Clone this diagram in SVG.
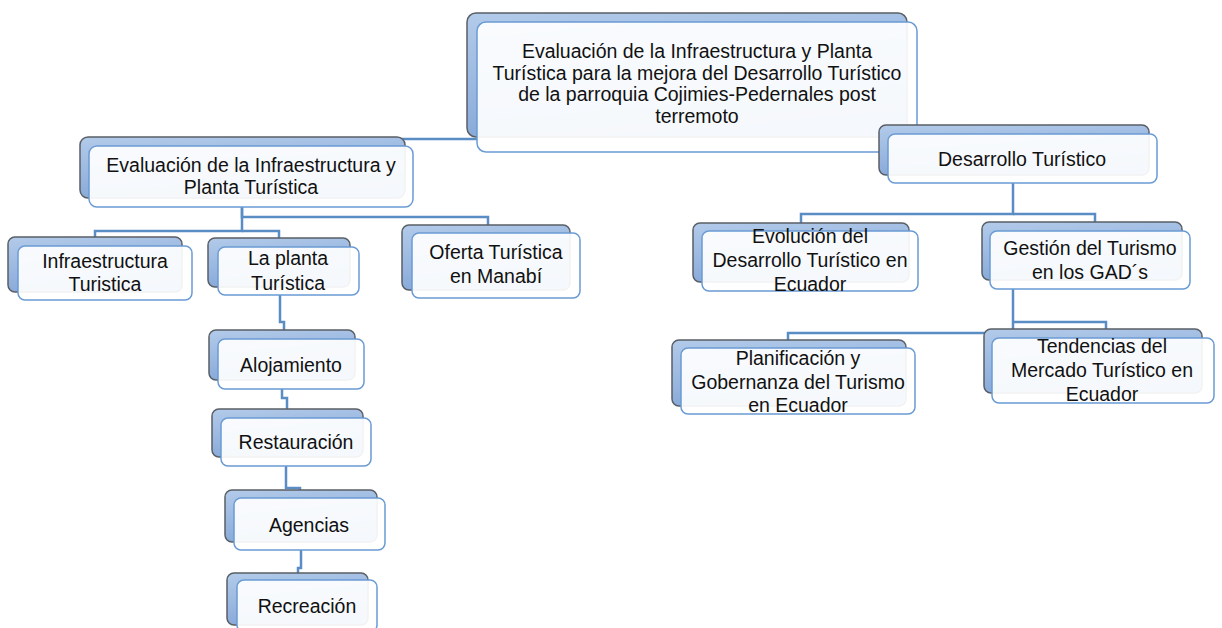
<svg xmlns="http://www.w3.org/2000/svg" width="1222" height="628" viewBox="0 0 1222 628">
<defs>
<linearGradient id="bg" x1="0" y1="0" x2="0.3" y2="1">
<stop offset="0" stop-color="#b3cbea"/>
<stop offset="1" stop-color="#86a8d8"/>
</linearGradient>
<style>
.back{fill:url(#bg);stroke:#5a5f66;stroke-width:1.5}
.front{fill:#ffffff;fill-opacity:0.92;stroke:#6a9bd4;stroke-width:1.5}
.lbl{font-family:"Liberation Sans",Arial,sans-serif;font-size:19.5px;fill:#111;text-anchor:middle}
.conn{fill:none;stroke:#5b8dc5;stroke-width:2.5}
</style>
</defs>
<rect width="1222" height="628" fill="#ffffff"/>
<g id="connectors">
<path class="conn" d="M477,139 H243 V146"/>
<path class="conn" d="M917,139 H1013 V134"/>
<path class="conn" d="M242,207 V231 H95 V237"/>
<path class="conn" d="M242,231 H279 V238"/>
<path class="conn" d="M242,207 V217 H488 V225"/>
<path class="conn" d="M280,295 V322 H284 V330"/>
<path class="conn" d="M282,389 V398 H287 V409"/>
<path class="conn" d="M286,466 V488 H300 V490"/>
<path class="conn" d="M301,550 V568 H298 V573"/>
<path class="conn" d="M1013,183 V214 H801 V223"/>
<path class="conn" d="M1013,214 H1095 V222"/>
<path class="conn" d="M1013,289 V333 H788 V340"/>
<path class="conn" d="M1013,322 H1106 V329"/>
</g>
<g id="root">
<rect class="back" x="467" y="13" width="440" height="124" rx="9"/>
<rect class="front" x="477" y="22" width="440" height="130" rx="9"/>
<text class="lbl" x="697" y="58">Evaluación de la Infraestructura y Planta</text>
<text class="lbl" x="697" y="80">Turística para la mejora del Desarrollo Turístico</text>
<text class="lbl" x="697" y="101">de la parroquia Cojimies-Pedernales post</text>
<text class="lbl" x="697" y="123">terremoto</text>
</g>
<g id="evaluacion">
<rect class="back" x="80" y="137" width="325" height="61" rx="8"/>
<rect class="front" x="89" y="146" width="324" height="61" rx="8"/>
<text class="lbl" x="251" y="172">Evaluación de la Infraestructura y</text>
<text class="lbl" x="251" y="194">Planta Turística</text>
</g>
<g id="infraestructura">
<rect class="back" x="8" y="237" width="174" height="55" rx="7"/>
<rect class="front" x="18" y="246" width="174" height="54" rx="7"/>
<text class="lbl" x="105" y="268">Infraestructura</text>
<text class="lbl" x="105" y="291">Turistica</text>
</g>
<g id="planta">
<rect class="back" x="208" y="238" width="142" height="49" rx="7"/>
<rect class="front" x="218" y="247" width="141" height="48" rx="7"/>
<text class="lbl" x="288" y="265">La planta</text>
<text class="lbl" x="288" y="290">Turística</text>
</g>
<g id="oferta">
<rect class="back" x="402" y="225" width="168" height="65" rx="7"/>
<rect class="front" x="412" y="233" width="168" height="65" rx="7"/>
<text class="lbl" x="496" y="259">Oferta Turística</text>
<text class="lbl" x="496" y="283">en Manabí</text>
</g>
<g id="alojamiento">
<rect class="back" x="209" y="330" width="146" height="50" rx="7"/>
<rect class="front" x="218" y="339" width="146" height="50" rx="7"/>
<text class="lbl" x="291" y="372">Alojamiento</text>
</g>
<g id="restauracion">
<rect class="back" x="212" y="409" width="151" height="48" rx="7"/>
<rect class="front" x="221" y="418" width="150" height="48" rx="7"/>
<text class="lbl" x="296" y="449">Restauración</text>
</g>
<g id="agencias">
<rect class="back" x="225" y="490" width="152" height="52" rx="7"/>
<rect class="front" x="234" y="498" width="151" height="52" rx="7"/>
<text class="lbl" x="309" y="532">Agencias</text>
</g>
<g id="recreacion">
<rect class="back" x="227" y="573" width="141" height="52" rx="7"/>
<rect class="front" x="237" y="580" width="140" height="52" rx="7"/>
<text class="lbl" x="307" y="613">Recreación</text>
</g>
<g id="desarrollo">
<rect class="back" x="879" y="125" width="270" height="50" rx="7"/>
<rect class="front" x="888" y="134" width="269" height="49" rx="7"/>
<text class="lbl" x="1022" y="166">Desarrollo Turístico</text>
</g>
<g id="evolucion">
<rect class="back" x="693" y="223" width="216" height="59" rx="7"/>
<rect class="front" x="702" y="231" width="216" height="60" rx="7"/>
<text class="lbl" x="810" y="243">Evolución del</text>
<text class="lbl" x="810" y="267">Desarrollo Turístico en</text>
<text class="lbl" x="810" y="291">Ecuador</text>
</g>
<g id="gestion">
<rect class="back" x="982" y="222" width="200" height="58" rx="7"/>
<rect class="front" x="990" y="231" width="200" height="58" rx="7"/>
<text class="lbl" x="1090" y="255">Gestión del Turismo</text>
<text class="lbl" x="1090" y="279">en los GAD´s</text>
</g>
<g id="planificacion">
<rect class="back" x="672" y="340" width="234" height="66" rx="7"/>
<rect class="front" x="681" y="348" width="234" height="66" rx="7"/>
<text class="lbl" x="798" y="365">Planificación y</text>
<text class="lbl" x="798" y="389">Gobernanza del Turismo</text>
<text class="lbl" x="798" y="412">en Ecuador</text>
</g>
<g id="tendencias">
<rect class="back" x="984" y="329" width="218" height="64" rx="7"/>
<rect class="front" x="992" y="338" width="222" height="65" rx="7"/>
<text class="lbl" x="1102" y="353">Tendencias del</text>
<text class="lbl" x="1102" y="377">Mercado Turístico en</text>
<text class="lbl" x="1102" y="401">Ecuador</text>
</g>
</svg>
